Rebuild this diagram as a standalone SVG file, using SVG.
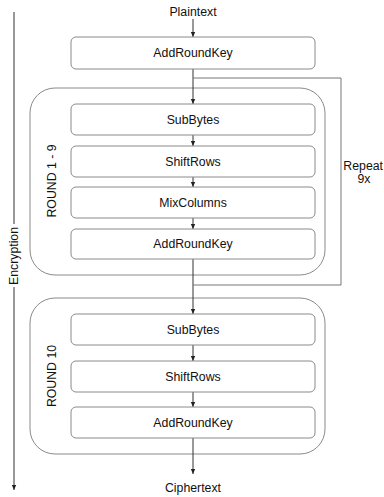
<svg xmlns="http://www.w3.org/2000/svg" width="384" height="497" viewBox="0 0 384 497">
<style>
text{font-family:"Liberation Sans",Arial,sans-serif;font-size:12.3px;fill:#111;}
.box{fill:#fff;stroke:#8a8a8a;stroke-width:1;}
.grp{fill:#fff;stroke:#8a8a8a;stroke-width:1;}
.c{fill:none;stroke:#333;stroke-width:1;}
.loop{fill:none;stroke:#777;stroke-width:1;}
</style>
<defs>
<marker id="ah" markerWidth="6" markerHeight="6" refX="5" refY="3" orient="auto" markerUnits="userSpaceOnUse">
<path d="M0,0.8 L5,3 L0,5.2 z" fill="#222"/>
</marker>
</defs>
<rect width="384" height="497" fill="#fff"/>
<g id="round1-9-group">
<rect class="grp" x="30" y="88" width="295" height="187" rx="25"/>
<text x="52" y="181" text-anchor="middle" dominant-baseline="central" transform="rotate(-90 52 181)">ROUND 1 - 9</text>
</g>
<g id="round10-group">
<rect class="grp" x="30" y="298" width="295" height="156" rx="25"/>
<text x="52" y="376" text-anchor="middle" dominant-baseline="central" transform="rotate(-90 52 376)">ROUND 10</text>
</g>
<g id="connectors">
<line class="c" x1="193" y1="19" x2="193" y2="37" marker-end="url(#ah)"/>
<line class="c" x1="193" y1="69" x2="193" y2="104" marker-end="url(#ah)"/>
<line class="c" x1="193" y1="135" x2="193" y2="146" marker-end="url(#ah)"/>
<line class="c" x1="193" y1="177" x2="193" y2="187" marker-end="url(#ah)"/>
<line class="c" x1="193" y1="218" x2="193" y2="229" marker-end="url(#ah)"/>
<line class="c" x1="193" y1="259" x2="193" y2="314" marker-end="url(#ah)"/>
<line class="c" x1="193" y1="345" x2="193" y2="361" marker-end="url(#ah)"/>
<line class="c" x1="193" y1="392" x2="193" y2="407" marker-end="url(#ah)"/>
<line class="c" x1="193" y1="438" x2="193" y2="474" marker-end="url(#ah)"/>
<polyline class="loop" points="193,78 341,78 341,285 193,285"/>
<line class="c" x1="14" y1="12" x2="14" y2="490" marker-end="url(#ah)"/>
</g>
<g id="encryption-label">
<rect x="8" y="224" width="12" height="63" fill="#fff"/>
<text x="14" y="256" text-anchor="middle" dominant-baseline="central" transform="rotate(-90 14 256)">Encryption</text>
</g>
<g id="plaintext"><text x="193" y="16" text-anchor="middle">Plaintext</text></g>
<g id="addroundkey0"><rect class="box" x="71" y="37" width="244" height="32" rx="5"/><text x="193" y="57" text-anchor="middle">AddRoundKey</text></g>
<g id="subbytes1"><rect class="box" x="71" y="104" width="244" height="31" rx="5"/><text x="193" y="124" text-anchor="middle">SubBytes</text></g>
<g id="shiftrows1"><rect class="box" x="71" y="146" width="244" height="31" rx="5"/><text x="193" y="166" text-anchor="middle">ShiftRows</text></g>
<g id="mixcolumns1"><rect class="box" x="71" y="187" width="244" height="31" rx="5"/><text x="193" y="207" text-anchor="middle">MixColumns</text></g>
<g id="addroundkey1"><rect class="box" x="71" y="229" width="244" height="30" rx="5"/><text x="193" y="248" text-anchor="middle">AddRoundKey</text></g>
<g id="subbytes2"><rect class="box" x="71" y="314" width="244" height="31" rx="5"/><text x="193" y="334" text-anchor="middle">SubBytes</text></g>
<g id="shiftrows2"><rect class="box" x="71" y="361" width="244" height="31" rx="5"/><text x="193" y="381" text-anchor="middle">ShiftRows</text></g>
<g id="addroundkey2"><rect class="box" x="71" y="407" width="244" height="31" rx="5"/><text x="193" y="427" text-anchor="middle">AddRoundKey</text></g>
<g id="ciphertext"><text x="193" y="492" text-anchor="middle">Ciphertext</text></g>
<g id="repeat-label"><text x="383" y="170" text-anchor="end">Repeat</text><text x="364" y="183" text-anchor="middle">9x</text></g>
</svg>
